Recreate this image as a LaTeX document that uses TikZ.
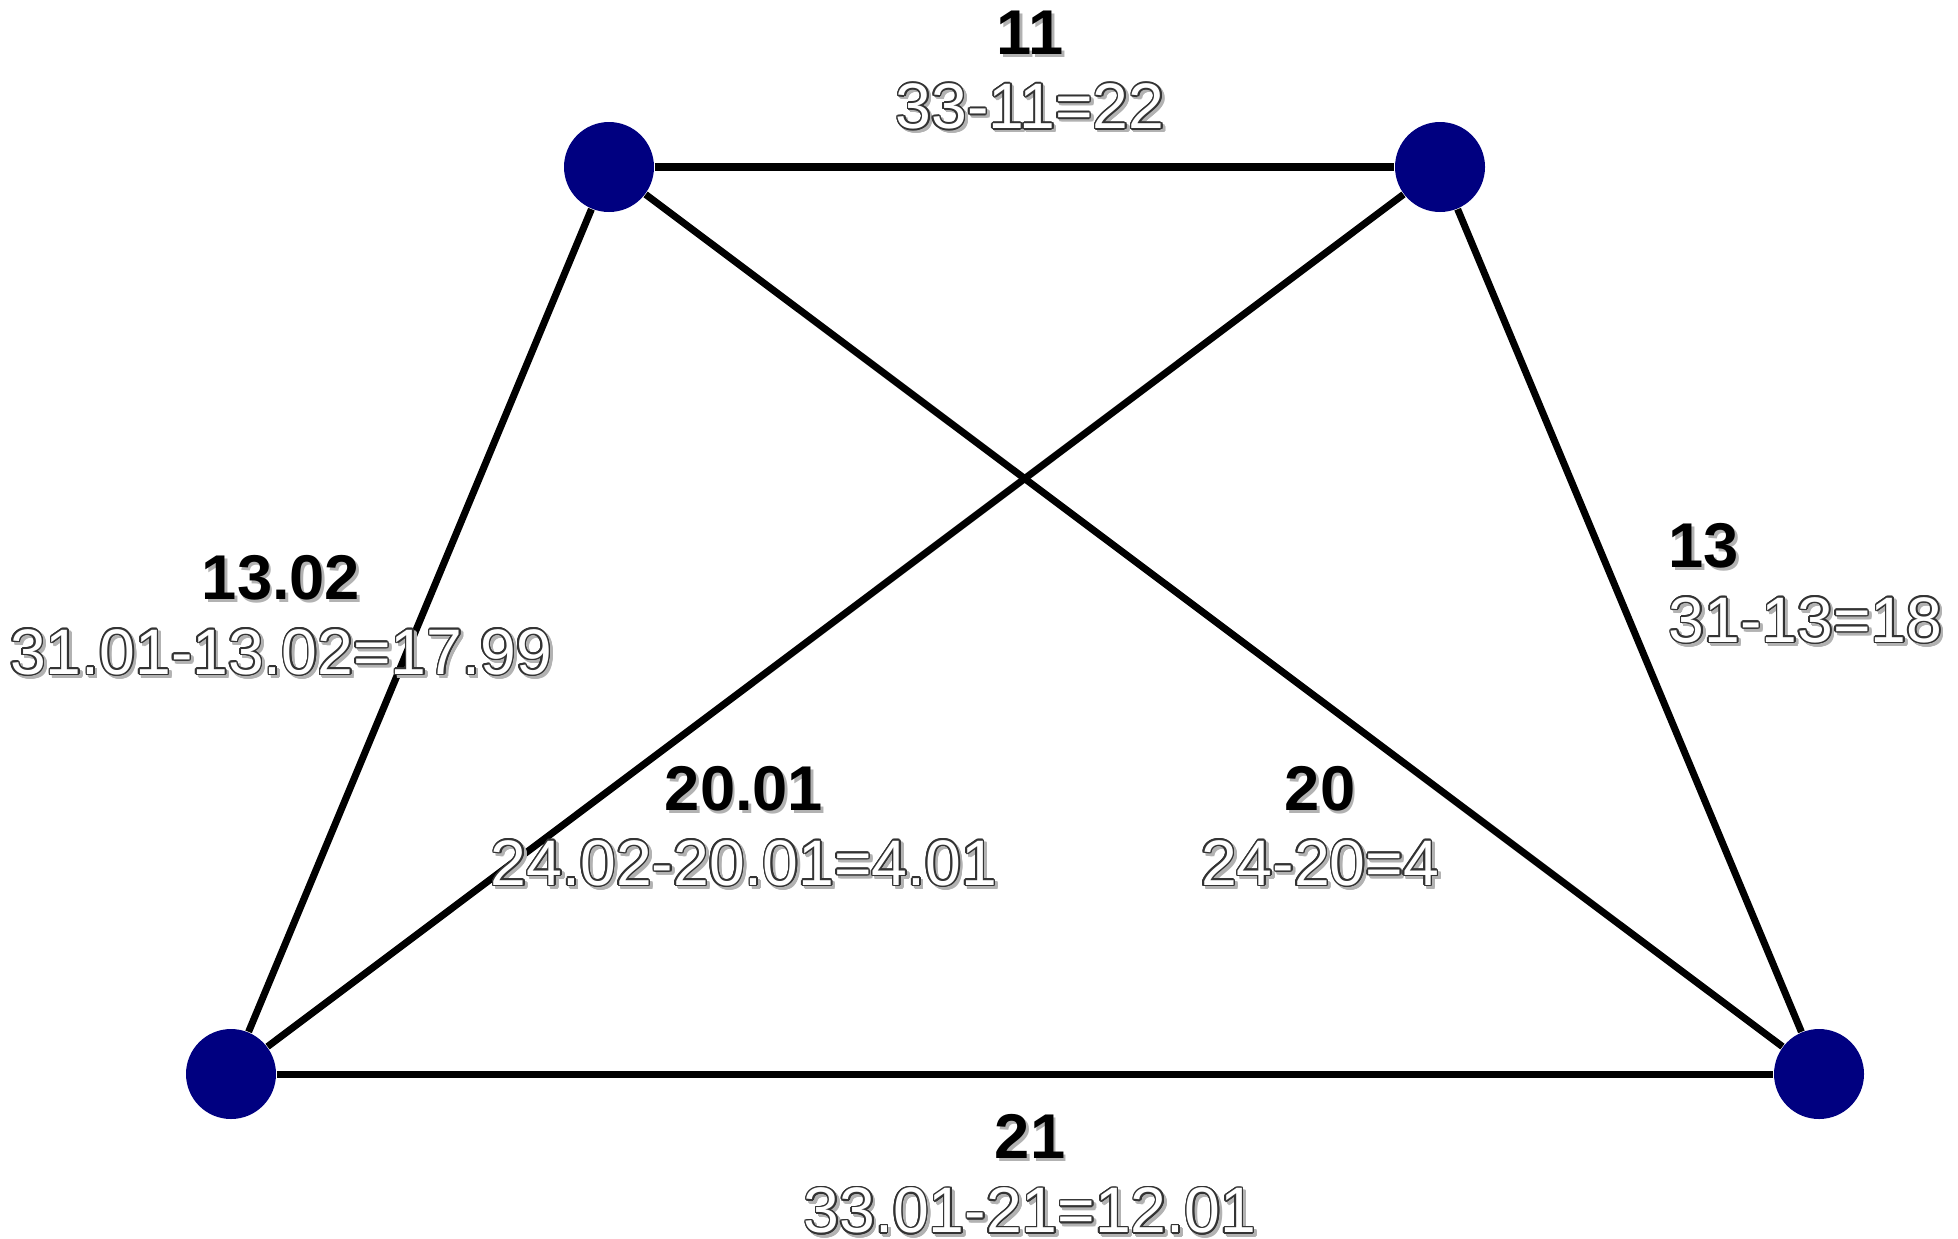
\documentclass[tikz,border=0pt]{standalone}
\usepackage{fontspec}
\setmainfont{Liberation Sans}
\usepackage{contour}
\usetikzlibrary{positioning}
\definecolor{vertblue}{RGB}{0,0,128}
\definecolor{shadowgray}{RGB}{178,178,178}
\contourlength{0.45pt}
\contournumber{16}
% bold weight with a soft shadow
\newcommand{\wlabel}[1]{\makebox[0pt][l]{\kern0.8pt\raisebox{-0.8pt}{\color{shadowgray}#1}}#1}
% hollow difference text with shadow
\newcommand{\dlabel}[1]{\makebox[0pt][l]{\kern0.8pt\raisebox{-0.8pt}{\color{shadowgray}\contour{shadowgray}{#1}}}{\color{white}\contour{black!80}{#1}}}

\begin{document}
\begin{tikzpicture}[
    vert/.style={circle, fill=vertblue, minimum size=0.9cm, inner sep=0pt},
    edge/.style={line width=2pt},
    wt/.style={inner sep=0pt, font=\fontsize{18}{20}\selectfont\bfseries},
    diff/.style={inner sep=0pt, font=\fontsize{18.3}{20}\selectfont}]
  \useasboundingbox (0,0) rectangle (19.58,-12.38);

  \node [vert] (v_tl) at (6.09,-1.67) {};
  \node [vert] (v_tr) at (14.40,-1.67) {};
  \node [vert] (v_bl) at (2.31,-10.74) {};
  \node [vert] (v_br) at (18.19,-10.74) {};

  \draw[edge] (v_tl) -- (v_tr);
  \draw[edge] (v_tl) -- (v_bl);
  \draw[edge] (v_tl) -- (v_br);
  \draw[edge] (v_tr) -- (v_bl);
  \draw[edge] (v_tr) -- (v_br);
  \draw[edge] (v_bl) -- (v_br);

  \node [wt] (w_top) at (10.30,-0.34) {\wlabel{11}};
  \node [diff, below=0.25cm of w_top] (d_top) {\dlabel{33-11=22}};

  \node [wt] (w_left) at (2.81,-5.79) {\wlabel{13.02}};
  \node [diff, below=0.25cm of w_left] (d_left) {\dlabel{31.01-13.02=17.99}};

  \node [wt] (w_midl) at (7.44,-7.90) {\wlabel{20.01}};
  \node [diff, below=0.25cm of w_midl] (d_midl) {\dlabel{24.02-20.01=4.01}};

  \node [wt] (w_midr) at (13.20,-7.90) {\wlabel{20}};
  \node [diff, below=0.25cm of w_midr] (d_midr) {\dlabel{24-20=4}};

  \node [wt, anchor=west] (w_right) at (16.68,-5.47) {\wlabel{13}};
  \node [diff, below right=0.25cm and 0cm of w_right.south west] (d_right) {\dlabel{31-13=18}};

  \node [wt] (w_bot) at (10.30,-11.38) {\wlabel{21}};
  \node [diff, below=0.25cm of w_bot] (d_bot) {\dlabel{33.01-21=12.01}};
\end{tikzpicture}
\end{document}
